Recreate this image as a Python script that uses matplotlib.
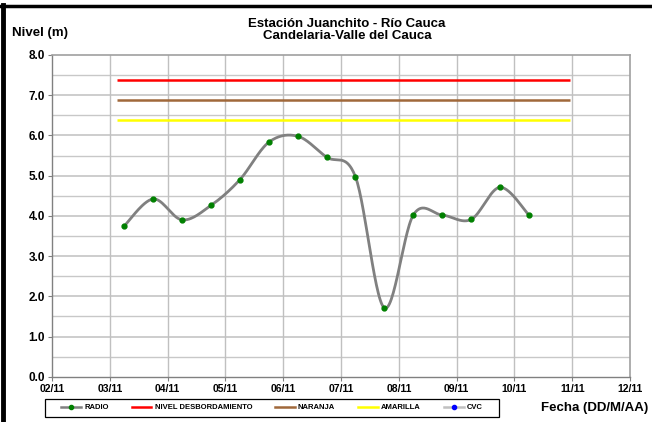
import numpy as np
import matplotlib
matplotlib.use("Agg")
import matplotlib.pyplot as plt
from matplotlib.lines import Line2D
from matplotlib.patches import Rectangle

plt.rcParams['font.family'] = ['Liberation Sans', 'DejaVu Sans']

# ---- data ----
x_days = [3.25, 3.75, 4.25, 4.75, 5.25, 5.75, 6.25, 6.75, 7.25, 7.75,
          8.25, 8.75, 9.25, 9.75, 10.25]
radio = [3.75, 4.42, 3.9, 4.26, 4.9, 5.83, 5.98, 5.46, 4.97, 1.71,
         4.02, 4.02, 3.91, 4.71, 4.02]
thr_x = [3.12, 10.97]
nivel_desb = 7.38
naranja = 6.87
amarilla = 6.38
tick_days = list(range(2, 13))
tick_labels = ["02/11", "03/11", "04/11", "05/11", "06/11", "07/11",
               "08/11", "09/11", "10/11", "11/11", "12/11"]
y_ticks = [0, 1, 2, 3, 4, 5, 6, 7, 8]
title = "Estación Juanchito - Río Cauca\nCandelaria-Valle del Cauca"


def smooth(xs, ys, n=30):
    xs = np.asarray(xs, float); ys = np.asarray(ys, float)
    P = np.column_stack([xs, ys])
    out = []
    m = len(P)
    for i in range(m - 1):
        p0 = P[i - 1] if i > 0 else P[i]
        p1 = P[i]
        p2 = P[i + 1]
        p3 = P[i + 2] if i + 2 < m else P[i + 1]
        c1 = p1 + (p2 - p0) / 6.0
        c2 = p2 - (p3 - p1) / 6.0
        t = np.linspace(0, 1, n)[:, None]
        seg = ((1 - t) ** 3) * p1 + 3 * ((1 - t) ** 2) * t * c1 + 3 * (1 - t) * t ** 2 * c2 + t ** 3 * p2
        out.append(seg if i == 0 else seg[1:])
    S = np.vstack(out)
    return S[:, 0], S[:, 1]


fig = plt.figure(figsize=(6.52, 4.22), dpi=100)
ax = fig.add_axes([0.0798, 0.1073, 0.8865, 0.7624])

# grid
for yv in np.arange(0.5, 8.0, 0.5):
    ax.axhline(yv, color='#c8c8c8' if yv % 1 else '#c0c0c0', lw=1.0 if yv % 1 else 1.1, zorder=0)
for xv in tick_days[1:-1]:
    ax.axvline(xv, color='#c0c0c0', lw=1.0, zorder=0)

ax.plot(thr_x, [nivel_desb] * 2, color='#ff0000', lw=1.8, solid_capstyle='butt', zorder=2)
ax.plot(thr_x, [naranja] * 2, color='#a0683a', lw=1.8, solid_capstyle='butt', zorder=2)
ax.plot(thr_x, [amarilla] * 2, color='#ffff00', lw=1.8, solid_capstyle='butt', zorder=2)

sx, sy = smooth(x_days, radio)
ax.plot(sx, sy, color='#808080', lw=2.0, zorder=3)
ax.plot(x_days, radio, 'o', color='#008000', ms=3.5, zorder=4)

ax.set_xlim(2, 12)
ax.set_ylim(0, 8)
ax.set_yticks(y_ticks)
ax.set_yticklabels([f"{v:.1f}" for v in y_ticks], fontsize=8.5, fontweight='bold')
ax.set_xticks(tick_days)
ax.set_xticklabels(tick_labels, fontsize=7.5, fontweight='bold')
ax.tick_params(axis='both', length=3, width=0.8, color='#808080', pad=2)
for s in ['left', 'bottom']:
    ax.spines[s].set_color('#808080')
    ax.spines[s].set_linewidth(1.0)
for s in ['top', 'right']:
    ax.spines[s].set_color('#a0a0a0')
    ax.spines[s].set_linewidth(1.2)

fig.text(0.532, 0.958, title, ha='center', va='top', fontsize=9.5,
         fontweight='bold', linespacing=1.0)
fig.text(0.018, 0.922, "Nivel (m)", ha='left', va='center', fontsize=9.5, fontweight='bold')
fig.text(0.995, 0.033, "Fecha (DD/M/AA)", ha='right', va='center', fontsize=9.5, fontweight='bold')

handles = [
    Line2D([], [], color='#808080', lw=1.8, marker='o', mfc='#008000', mec='#008000', ms=3),
    Line2D([], [], color='#ff0000', lw=1.8),
    Line2D([], [], color='#a0683a', lw=1.8),
    Line2D([], [], color='#ffff00', lw=1.8),
    Line2D([], [], color='#c0c0c0', lw=1.8, marker='o', mfc='#0000ff', mec='#0000ff', ms=3),
]
labels = ["RADIO", "NIVEL DESBORDAMIENTO", "NARANJA", "AMARILLA", "CVC"]
leg = fig.legend(handles, labels, loc='center', bbox_to_anchor=(0.417, 0.034), ncol=5,
                 prop={'weight': 'bold', 'size': 5.5}, frameon=False,
                 handlelength=2.6, handletextpad=0.4, columnspacing=3.0,
                 borderpad=0.3)
# legend frame
fig.add_artist(Rectangle((45 / 652, (422 - 416.7) / 422), (499 - 45) / 652, 18 / 422,
                         transform=fig.transFigure, fill=False, edgecolor='black', lw=0.9))

# outer black frame (left and top)
fig.add_artist(Line2D([0.004, 0.004], [0, 0.988], color='black', lw=3.5, transform=fig.transFigure))
fig.add_artist(Line2D([0.0, 1.0], [0.985, 0.985], color='black', lw=2.5, transform=fig.transFigure))

fig.savefig("out.png", dpi=100)
